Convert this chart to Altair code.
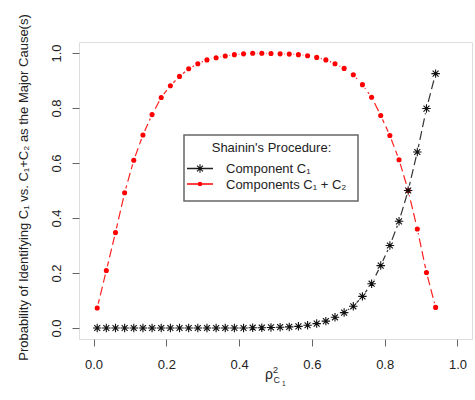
import altair as alt
import pandas as pd

# ---- data ----
rho2 = [0.0100, 0.0351, 0.0603, 0.0854, 0.1105, 0.1357, 0.1608, 0.1859, 0.2111, 0.2362,
        0.2614, 0.2865, 0.3116, 0.3368, 0.3619, 0.3870, 0.4122, 0.4373, 0.4624, 0.4876,
        0.5127, 0.5378, 0.5630, 0.5881, 0.6132, 0.6384, 0.6635, 0.6886, 0.7138, 0.7389,
        0.7641, 0.7892, 0.8143, 0.8395, 0.8646, 0.8897, 0.9149, 0.9400]

p_c1 = [0.000, 0.000, 0.000, 0.000, 0.000, 0.000, 0.000, 0.000, 0.000, 0.000,
        0.000, 0.000, 0.000, 0.000, 0.000, 0.000, 0.000, 0.001, 0.001, 0.002,
        0.003, 0.004, 0.006, 0.010, 0.016, 0.025, 0.039, 0.056, 0.079, 0.115,
        0.161, 0.227, 0.300, 0.388, 0.500, 0.640, 0.798, 0.925]

p_c1c2 = [0.073, 0.209, 0.347, 0.492, 0.610, 0.702, 0.776, 0.838, 0.881, 0.915,
          0.943, 0.961, 0.975, 0.983, 0.989, 0.994, 0.997, 0.999, 0.999, 0.998,
          0.997, 0.996, 0.994, 0.990, 0.984, 0.975, 0.961, 0.944, 0.921, 0.885,
          0.839, 0.773, 0.700, 0.612, 0.500, 0.360, 0.202, 0.075]

x_ticks = [0.0, 0.2, 0.4, 0.6, 0.8, 1.0]
y_ticks = [0.0, 0.2, 0.4, 0.6, 0.8, 1.0]

legend_title = "Shainin's Procedure:"
legend_labels = ["Component C\u2081", "Components C\u2081 + C\u2082"]
y_title = "Probability of Identifying C\u2081 vs. C\u2081+C\u2082 as the Major Cause(s)"

FONT = "Liberation Sans"
STAR = "M-1,0L1,0M0,-1L0,1M-0.7,-0.7L0.7,0.7M-0.7,0.7L0.7,-0.7"

df = pd.DataFrame({
    "x": rho2 + rho2,
    "y": p_c1 + p_c1c2,
    "s": ["c1"] * len(rho2) + ["c1c2"] * len(rho2),
})

xs = alt.Scale(domain=[-0.04, 1.04], nice=False, zero=False)
ys = alt.Scale(domain=[-0.04, 1.04], nice=False, zero=False)

xaxis = alt.Axis(values=x_ticks, format=".1f", title=None, grid=False, domain=False,
                 tickSize=7, tickColor="#666", tickWidth=1,
                 labelFontSize=13, labelFont=FONT, labelColor="#222", labelPadding=12)
yaxis = alt.Axis(values=y_ticks, format=".1f", title=y_title, grid=False, domain=False,
                 tickSize=7, tickColor="#666", tickWidth=1,
                 labelFontSize=13, labelFont=FONT, labelColor="#222",
                 labelAngle=270, labelAlign="center", labelBaseline="alphabetic", labelPadding=12,
                 titleFont=FONT, titleFontSize=13, titleFontWeight="normal", titleColor="#222",
                 titleAngle=270, titleX=-52, titleY=145, titleAlign="center",
                 titleBaseline="alphabetic")

base = alt.Chart(df).encode(
    x=alt.X("x:Q", scale=xs, axis=xaxis),
    y=alt.Y("y:Q", scale=ys, axis=yaxis),
)
red = base.transform_filter(alt.datum.s == "c1c2")
blk = base.transform_filter(alt.datum.s == "c1")

red_line = red.mark_line(color="#ff2020", strokeWidth=1.2, strokeDash=[9, 4])
blk_line = blk.mark_line(color="#333", strokeWidth=1.2, strokeDash=[9, 4])
red_halo = red.mark_point(shape="circle", filled=True, color="white", opacity=1, size=75)
blk_halo = blk.mark_point(shape="circle", filled=True, color="white", opacity=1, size=100)
red_pts = red.mark_point(shape="circle", filled=True, color="#ff0000", opacity=1, size=26)
blk_pts = blk.mark_point(shape=STAR, filled=False, color="#111", opacity=1, size=72, strokeWidth=1.1)


def one():
    return pd.DataFrame({"t": [""]})


def label(text, x, y, size, align="left", color="#222"):
    return alt.Chart(pd.DataFrame({"t": [text]})).mark_text(
        font=FONT, fontSize=size, align=align, baseline="alphabetic", color=color
    ).encode(text="t:N", x=alt.value(x), y=alt.value(y))


# x axis title: rho^2 with subscript C1
xt = [
    label("\u03c1", 190, 337, 14, align="center"),
    label("2", 194, 331, 9),
    label("C", 194.5, 341, 9),
    label("1", 203, 344, 6.5),
]

# legend
leg_box = alt.Chart(one()).mark_rect(fill="white", stroke="#666", strokeWidth=1.5).encode(
    x=alt.value(105), x2=alt.value(279), y=alt.value(93), y2=alt.value(159))
leg_r1 = alt.Chart(one()).mark_rule(color="#222", strokeWidth=1.5).encode(
    x=alt.value(108), x2=alt.value(134), y=alt.value(126.5))
leg_r2 = alt.Chart(one()).mark_rule(color="#ff0000", strokeWidth=1.5).encode(
    x=alt.value(108), x2=alt.value(134), y=alt.value(142))
leg_p1 = alt.Chart(one()).mark_point(shape=STAR, filled=False, color="#111", size=72,
                                     strokeWidth=1.1, opacity=1).encode(
    x=alt.value(121), y=alt.value(126.5))
leg_p2 = alt.Chart(one()).mark_point(shape="circle", filled=True, color="#ff0000", size=20,
                                     opacity=1).encode(
    x=alt.value(121), y=alt.value(142))
leg_t0 = label(legend_title, 192.5, 109.5, 13, align="center")
leg_t1 = label(legend_labels[0], 147, 130.5, 13)
leg_t2 = label(legend_labels[1], 147, 146.5, 13)

chart = alt.layer(
    red_line, blk_line, red_halo, blk_halo, red_pts, blk_pts,
    *xt,
    leg_box, leg_r1, leg_r2, leg_p1, leg_p2, leg_t0, leg_t1, leg_t2,
).properties(
    width=393, height=297,
    autosize=alt.AutoSizeParams(type="none"),
    padding={"left": 79, "top": 42, "right": 3, "bottom": 61},
    background="white",
).configure_view(
    stroke="#666", strokeWidth=1.5
).configure(font=FONT)

chart.save("out.html", embed_options={"renderer": "svg", "actions": False})
